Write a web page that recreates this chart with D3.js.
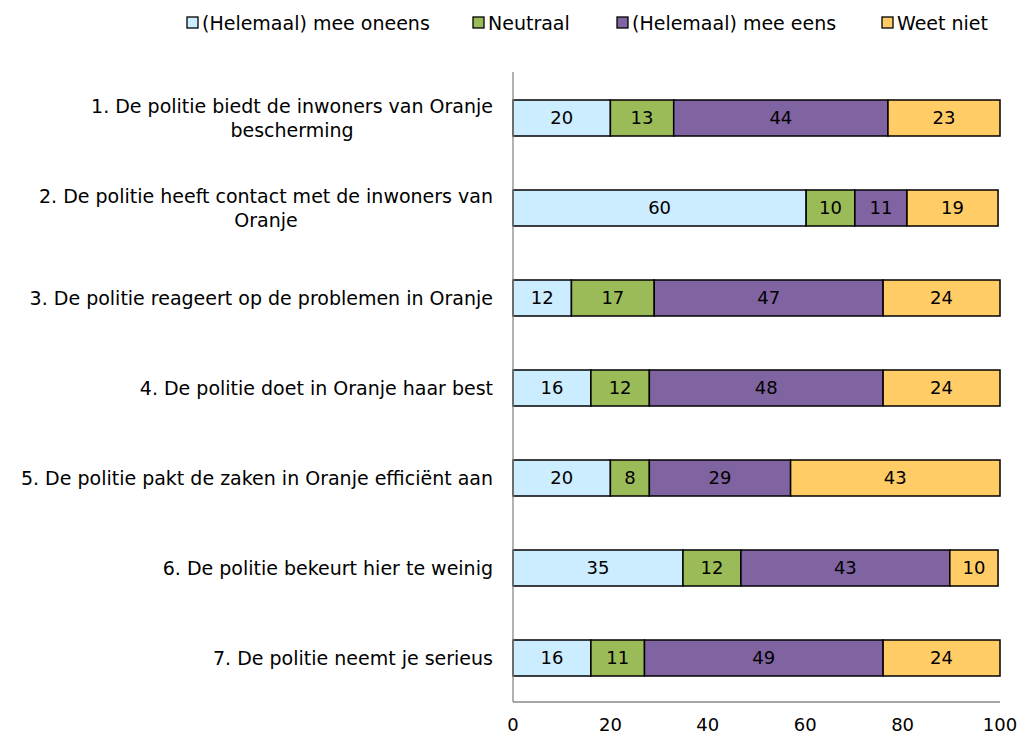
<!DOCTYPE html>
<html>
<head>
<meta charset="utf-8">
<script src="https://cdn.jsdelivr.net/npm/d3@7"></script>
<style>
  body { margin: 0; background: #fff; }
  svg { font-family: "DejaVu Sans", sans-serif; }
</style>
</head>
<body>
<div id="chart"></div>
<script>
// survey statements (wrapped lines)
const categories = [
  ["1. De politie biedt de inwoners van Oranje", "bescherming"],
  ["2. De politie heeft contact met de inwoners van", "Oranje"],
  ["3. De politie reageert op de problemen in Oranje"],
  ["4. De politie doet in Oranje haar best"],
  ["5. De politie pakt de zaken in Oranje efficiënt aan"],
  ["6. De politie bekeurt hier te weinig"],
  ["7. De politie neemt je serieus"]
];
const seriesNames = ["(Helemaal) mee oneens", "Neutraal", "(Helemaal) mee eens", "Weet niet"];
const seriesColors = ["#CCECFF", "#9BBB59", "#8064A2", "#FFCC66"];
const oneens = [20, 60.2, 12, 16, 20, 34.9, 16];
const neutraal = [13, 10, 17, 12, 8, 11.9, 11];
const eens = [44, 10.7, 47, 48, 29, 42.9, 49];
const weetNiet = [23, 18.7, 24, 24, 43, 9.9, 24];
const xTicks = [0, 20, 40, 60, 80, 100];

const width = 1021, height = 738;
const margin = { top: 72, right: 21, bottom: 36, left: 513 };

const svg = d3.select("#chart").append("svg")
  .attr("width", width)
  .attr("height", height);

const x = d3.scaleLinear().domain([0, 100]).range([margin.left, width - margin.right]);
const y = d3.scaleBand()
  .domain(d3.range(categories.length))
  .range([margin.top, height - margin.bottom])
  .paddingInner(0.6)
  .paddingOuter(0.3);

const rows = categories.map((c, i) => [oneens[i], neutraal[i], eens[i], weetNiet[i]]);

// bars
rows.forEach((vals, i) => {
  let acc = 0;
  vals.forEach((v, j) => {
    const x0 = x(acc), x1 = x(acc + v);
    svg.append("rect")
      .attr("x", x0)
      .attr("y", y(i) + 1)
      .attr("width", x1 - x0)
      .attr("height", y.bandwidth())
      .attr("fill", seriesColors[j])
      .attr("stroke", "#000")
      .attr("stroke-width", 1.5);
    svg.append("text")
      .attr("x", (x0 + x1) / 2)
      .attr("y", y(i) + 1 + y.bandwidth() / 2)
      .attr("dy", "0.35em")
      .attr("text-anchor", "middle")
      .attr("font-size", 18)
      .attr("fill", "#000")
      .text(Math.round(v));
    acc += v;
  });
});

// axes lines
const axisColor = "#888";
svg.append("line")
  .attr("x1", x(0)).attr("x2", x(0))
  .attr("y1", margin.top).attr("y2", height - margin.bottom)
  .attr("stroke", axisColor).attr("stroke-width", 1.3);
svg.append("line")
  .attr("x1", x(0)).attr("x2", x(100))
  .attr("y1", height - margin.bottom).attr("y2", height - margin.bottom)
  .attr("stroke", axisColor).attr("stroke-width", 1.3);

// x tick labels
svg.selectAll(".xt")
  .data(xTicks)
  .join("text")
  .attr("x", d => x(d))
  .attr("y", 725)
  .attr("dy", "0.35em")
  .attr("text-anchor", "middle")
  .attr("font-size", 18)
  .text(d => d);

// category labels: right aligned block, wrapped lines centred on each other
categories.forEach((lines, i) => {
  const cy = y(i) + 1 + y.bandwidth() / 2;
  const lh = 24;
  const first = svg.append("text")
    .attr("x", 493)
    .attr("y", cy - (lines.length - 1) * lh / 2)
    .attr("dy", "0.35em")
    .attr("text-anchor", "end")
    .attr("font-size", 19)
    .text(lines[0]);
  const w = first.node().getComputedTextLength();
  lines.slice(1).forEach((line, k) => {
    svg.append("text")
      .attr("x", 493 - w / 2)
      .attr("y", cy - (lines.length - 1) * lh / 2 + (k + 1) * lh)
      .attr("dy", "0.35em")
      .attr("text-anchor", "middle")
      .attr("font-size", 19)
      .text(line);
  });
});

// legend
const legendX = [187, 473, 617, 882];
seriesNames.forEach((name, j) => {
  svg.append("rect")
    .attr("x", legendX[j]).attr("y", 17)
    .attr("width", 11).attr("height", 11)
    .attr("fill", seriesColors[j])
    .attr("stroke", "#000").attr("stroke-width", 1.3);
  svg.append("text")
    .attr("x", legendX[j] + 15).attr("y", 23)
    .attr("dy", "0.35em")
    .attr("font-size", 19)
    .text(name);
});
</script>
</body>
</html>
